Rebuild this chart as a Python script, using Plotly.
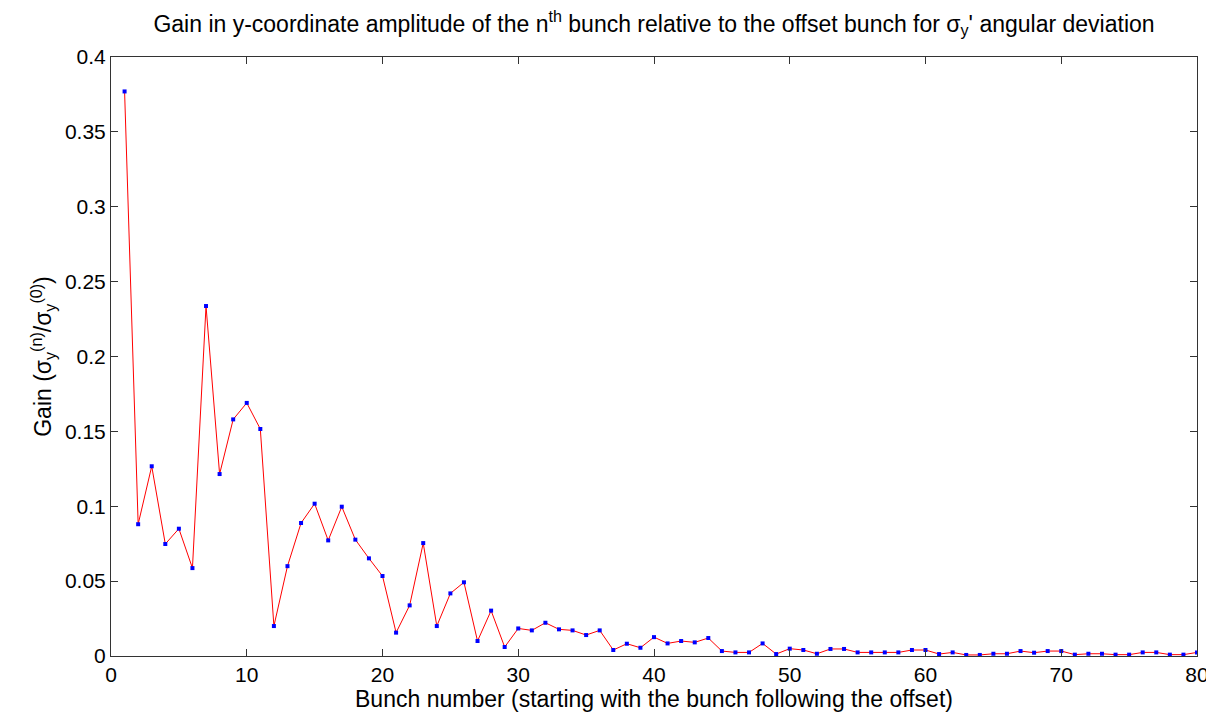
import plotly.graph_objects as go

bunch = list(range(1, 81))
gain = [
    0.377, 0.088, 0.1267, 0.0748, 0.085, 0.0587, 0.2337, 0.1215, 0.158, 0.169,
    0.1516, 0.020, 0.060, 0.0888, 0.1017, 0.0772, 0.0997, 0.0777, 0.0652, 0.0534,
    0.0156, 0.0338, 0.0754, 0.020, 0.0418, 0.0492, 0.010, 0.0303, 0.006, 0.0184,
    0.0171, 0.0222, 0.0178, 0.0171, 0.014, 0.0171, 0.004, 0.0082, 0.0055, 0.0126,
    0.0084, 0.010, 0.0091, 0.012, 0.0033, 0.0024, 0.0024, 0.0084, 0.0013, 0.0049,
    0.004, 0.0015, 0.0047, 0.0047, 0.0024, 0.0024, 0.0024, 0.0024, 0.004, 0.004,
    0.0013, 0.0024, 0.0007, 0.0007, 0.0015, 0.0015, 0.0033, 0.0022, 0.0033, 0.0033,
    0.0009, 0.0015, 0.0015, 0.0009, 0.0009, 0.0024, 0.0024, 0.0009, 0.0009, 0.0024,
]
x_ticks = [0, 10, 20, 30, 40, 50, 60, 70, 80]
y_ticks = [0, 0.05, 0.1, 0.15, 0.2, 0.25, 0.3, 0.35, 0.4]
y_tick_labels = ["0", "0.05", "0.1", "0.15", "0.2", "0.25", "0.3", "0.35", "0.4"]

fig = go.Figure()
fig.add_trace(go.Scatter(
    x=bunch, y=gain, mode="lines+markers",
    line=dict(color="#ff0000", width=1),
    marker=dict(symbol="square", size=4, color="#0000ff"),
    showlegend=False,
))

font = "Liberation Sans, Arial, sans-serif"
fig.update_layout(
    width=1206, height=705,
    margin=dict(l=103, r=17, t=49, b=57, autoexpand=False),
    paper_bgcolor="white", plot_bgcolor="white",
    font=dict(family=font, size=21, color="black"),
    title=dict(
        text="Gain in y-coordinate amplitude of the n<sup>th</sup> bunch relative to the offset bunch for σ<sub>y</sub>' angular deviation",
        x=0.5, xanchor="center", xref="paper",
        y=0.978, yanchor="middle", yref="container",
        font=dict(family=font, size=23, color="black"),
    ),
    xaxis=dict(
        range=[0, 80], tickvals=x_ticks, ticks="inside", ticklen=7,
        showline=True, linecolor="#333333", linewidth=1, mirror="ticks",
        showgrid=False, zeroline=False, tickcolor="#333333",
        title=dict(text="Bunch number (starting with the bunch following the offset)",
                   standoff=0, font=dict(size=23)),
        tickfont=dict(size=21),
        automargin=False,
    ),
    yaxis=dict(
        range=[0, 0.4], tickvals=y_ticks, ticktext=y_tick_labels,
        ticks="inside", ticklen=7,
        showline=True, linecolor="#333333", linewidth=1, mirror="ticks",
        showgrid=False, zeroline=False, tickcolor="#333333",
        title=dict(text="Gain (σ<sub>y</sub><sup>(n)</sup>/σ<sub>y</sub><sup>(0)</sup>)",
                   standoff=6, font=dict(size=23)),
        tickfont=dict(size=21),
        automargin=False,
    ),
)

fig.write_html("out.html")
